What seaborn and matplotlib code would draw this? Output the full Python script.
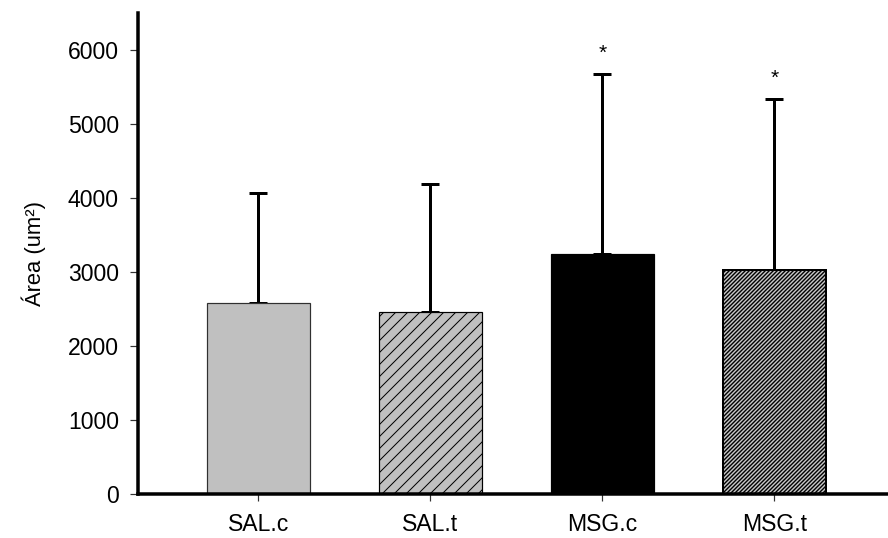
import matplotlib
matplotlib.use("Agg")
import matplotlib.pyplot as plt
import seaborn as sns
import pandas as pd
import numpy as np

# Group means and standard deviations of the area measurements
groups = ["SAL.c", "SAL.t", "MSG.c", "MSG.t"]
means = [2579, 2457, 3244, 3027]
sds = [1493, 1738, 2430, 2308]
significant = [False, False, True, True]
y_ticks = [0, 1000, 2000, 3000, 4000, 5000, 6000]

face_colors = ["#c0c0c0", "#c0c0c0", "#000000", "#c8c8c8"]
edge_colors = ["#303030", "#000000", "#000000", "#000000"]
hatches = ["", "//", "", "//////"]
hatch_widths = [1.0, 1.0, 1.0, 1.4]

sns.set_theme(style="white")
plt.rcParams["font.family"] = ["Liberation Sans", "DejaVu Sans"]
plt.rcParams["text.color"] = "black"
plt.rcParams["axes.labelcolor"] = "black"
plt.rcParams["xtick.color"] = "black"
plt.rcParams["ytick.color"] = "black"

DPI = 72
fig = plt.figure(figsize=(888 / DPI, 538 / DPI), dpi=DPI)
ax = fig.add_axes([138 / 888, 1 - 494 / 538, 1 - 138 / 888, (494 - 13) / 538])

df = pd.DataFrame({"group": groups, "area": means})
sns.barplot(data=df, x="group", y="area", order=groups, hue="group",
            palette=face_colors, legend=False, width=0.6, errorbar=None,
            ax=ax, zorder=2)

for patch, ec, h, hw in zip(ax.patches, edge_colors, hatches, hatch_widths):
    patch.set_edgecolor(ec)
    patch.set_linewidth(2.0 if h == "//////" else 1.2)
    if h:
        plt.rcParams["hatch.linewidth"] = hw
        patch.set_hatch(h)
        try:
            patch.set_hatch_linewidth(hw)
        except AttributeError:
            pass

xpos = np.arange(len(groups))
ax.errorbar(xpos, means, yerr=[np.zeros(len(sds)), sds], fmt="none",
            ecolor="black", elinewidth=3, capsize=9, capthick=3, zorder=1)

for x, m, s, sig in zip(xpos, means, sds, significant):
    if sig:
        ax.annotate("*", (x, m + s), xytext=(0, 11), textcoords="offset points",
                    ha="center", va="bottom", fontsize=21, color="black")

ax.set_xlim(-0.70, 3.66)
ax.set_ylim(0, 6500)
ax.set_yticks(y_ticks)
ax.set_yticklabels([str(t) for t in y_ticks])

sns.despine(ax=ax, top=True, right=True)
for side in ("left", "bottom"):
    ax.spines[side].set_linewidth(3.5)
    ax.spines[side].set_color("black")

ax.tick_params(axis="y", direction="out", length=8, width=1.2, color="#333333",
               labelsize=23, pad=11, left=True, labelcolor="black")
ax.tick_params(axis="x", direction="out", length=7, width=1.2, color="#333333",
               labelsize=23, pad=12, bottom=True, labelcolor="black")

ax.set_xlabel("")
ax.set_ylabel("Área (um²)", fontsize=22, labelpad=22, color="black")

fig.savefig("out.png", dpi=DPI)
